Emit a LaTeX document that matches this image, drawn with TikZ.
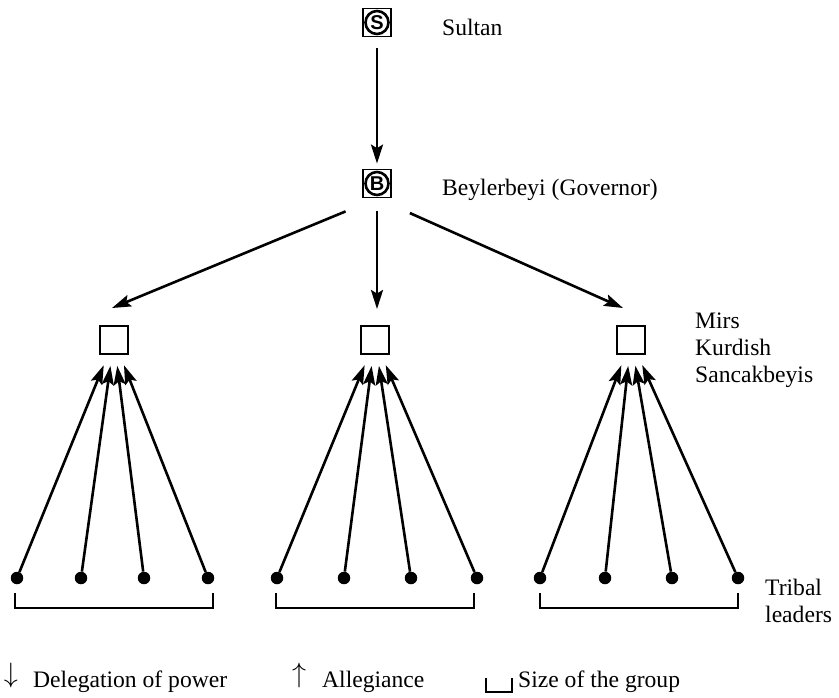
\RequirePackage{fix-cm}
\documentclass[tikz,border=0pt]{standalone}
\usepackage{fontspec}
\setmainfont{Liberation Serif}
\setsansfont{Liberation Sans}
\usetikzlibrary{arrows.meta,calc}
\begin{document}
\begin{tikzpicture}[x=1pt,y=-1pt,
  every node/.style={inner sep=0pt},
  lbl/.style={anchor=base west, font=\fontsize{23.6}{26.7}\selectfont},
  rulerbox/.style={draw, line width=1.8pt, minimum size=28pt, inner sep=0pt},
  circ/.style={draw, circle, line width=2.6pt, minimum size=23pt, inner sep=0pt, font=\sffamily\bfseries\fontsize{20}{20}\selectfont},
  mirbox/.style={draw, line width=2pt, minimum size=28pt},
  dot/.style={circle, fill, minimum size=12.5pt},
  power/.style={line width=2.6pt, -{Stealth[length=19pt,width=12pt,inset=3.5pt]}},
  alleg/.style={power},
  grp/.style={line width=2.8pt},
  sym/.style={font=\fontsize{28}{28}\selectfont}
]
\useasboundingbox (0,0) rectangle (839,697);

% top of hierarchy
\node[rulerbox] (S) at (377,22.5) {};
\node[circ] (Sc) at (S) {S};
\node[rulerbox] (B) at (377,183.5) {};
\node[circ] (Bc) at (B) {B};
\node[lbl] (sultan) at (442,35) {Sultan};
\node[lbl] (bey) at (442,195) {Beylerbeyi (Governor)};

\draw[power, shorten <=11pt, shorten >=5pt] (S) -- (B);

% Mirs
\node[mirbox] (M1) at (114,340) {};
\node[mirbox] (M2) at (375,340) {};
\node[mirbox] (M3) at (631,340) {};
\coordinate (m1in) at (112,308);
\coordinate (m3in) at (623,308);

\draw[power, shorten <=34pt] (B.south) -- (m1in);
\draw[power, shorten <=13pt, shorten >=16pt] (B.south) -- (B.south |- M2.north);
\draw[power, shorten <=36pt] (B.south) -- (m3in);

\node[lbl, align=left] (mirs) at (695,382) {Mirs\\Kurdish\\Sancakbeyis};

% tribal leaders
\foreach \g/\a/\b/\c/\d in {1/17/81/144/208, 2/277/344/411/477, 3/540/605/672/738}{
  \foreach \x [count=\i] in {\a,\b,\c,\d}{
    \node[dot] (d\g\i) at (\x,578) {};
    \draw[alleg, shorten >=11pt] (d\g\i) -- (M\g);
  }
}
\draw[grp] (15,593) -- (15,608) -- (213,608) -- (213,593);
\draw[grp] (276,593) -- (276,608) -- (474,608) -- (474,593);
\draw[grp] (540,593) -- (540,608) -- (738,608) -- (738,593);

\node[lbl, align=left] (tribal) at (765,622) {Tribal\\leaders};

% legend
\node[sym] (darr) at (11,675.5) {$\downarrow$};
\node[lbl] (deleg) at (33,687) {Delegation of power};
\node[sym] (uarr) at (299,675.5) {$\uparrow$};
\node[lbl] (allegl) at (322,687) {Allegiance};
\draw[line width=2.8pt] (486,678) -- (486,692) -- (512,692) -- (512,678);
\node[lbl] (sizel) at (518,687) {Size of the group};
\end{tikzpicture}
\end{document}
